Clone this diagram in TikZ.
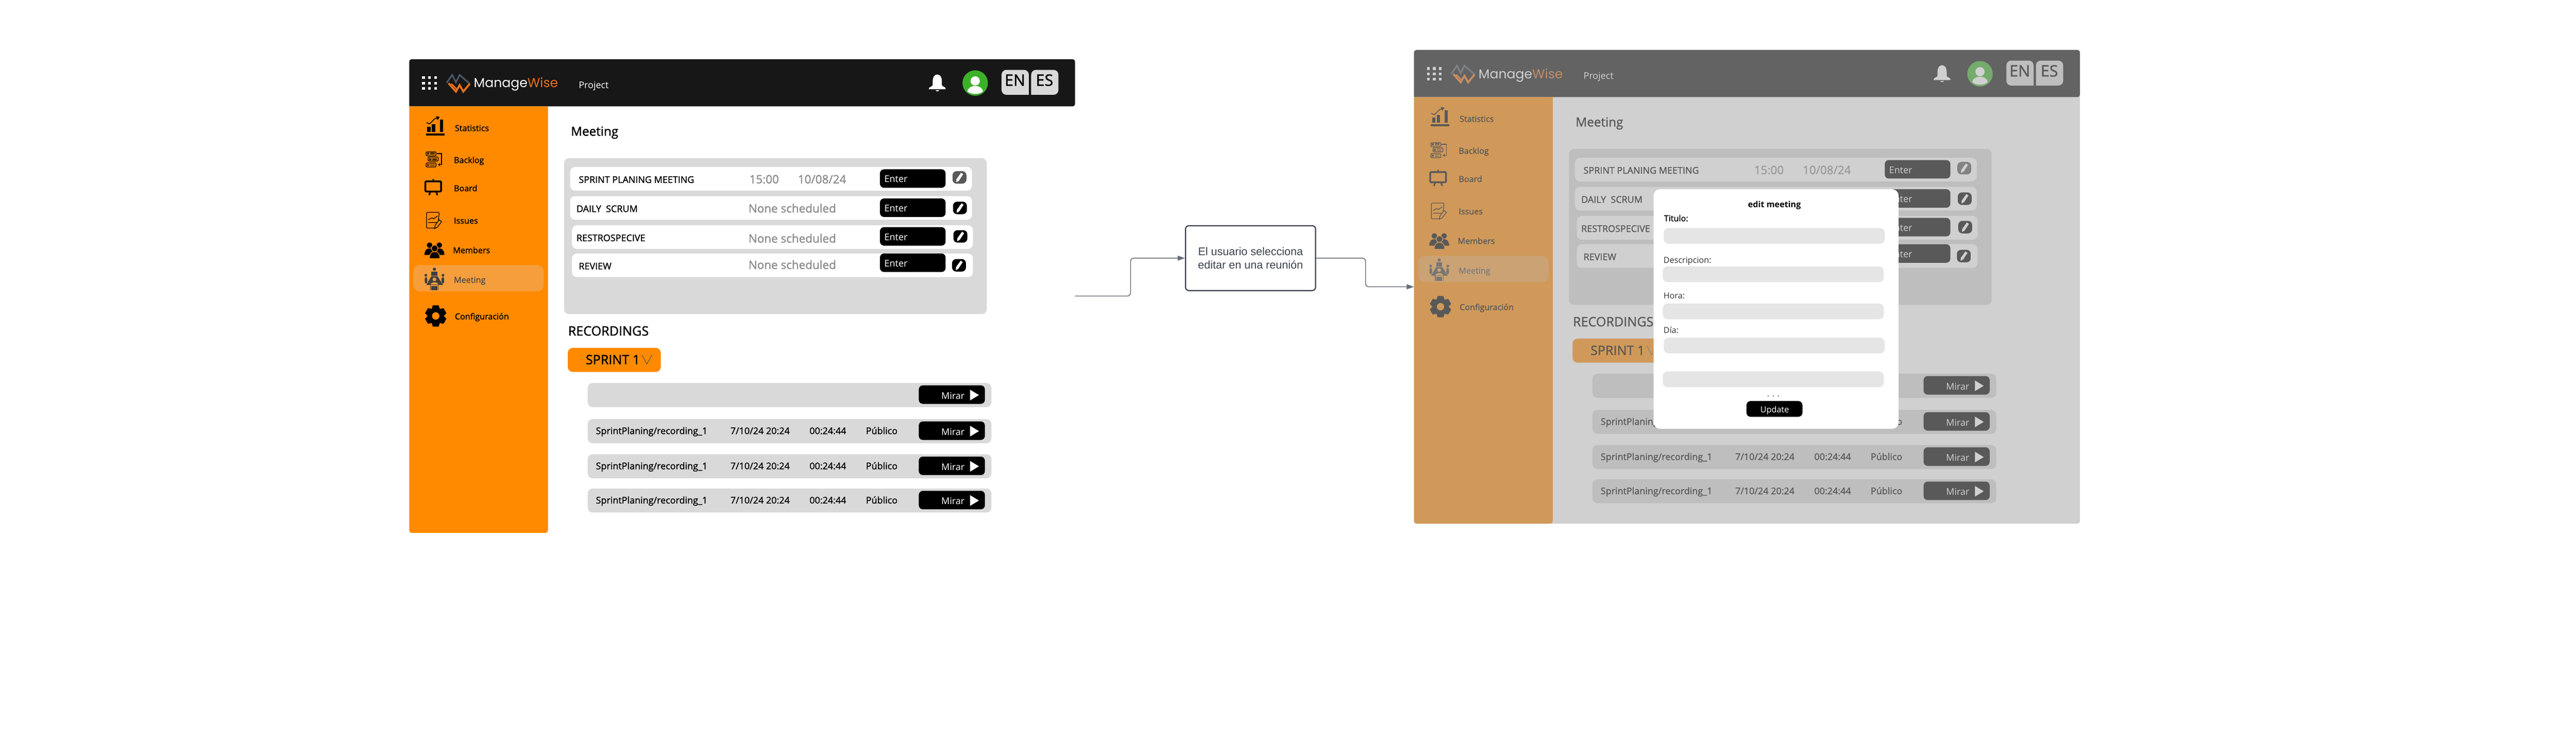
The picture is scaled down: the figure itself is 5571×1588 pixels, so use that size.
\documentclass[tikz,border=0pt]{standalone}
\usepackage{fontspec}
\usepackage{xcolor}
\usepackage{tikz}
\usetikzlibrary{arrows.meta}
\usetikzlibrary{positioning}
\setmainfont{Open Sans}
\newfontfamily\semifont[FakeBold=1.3]{Open Sans}
\newfontfamily\logofont{Poppins}
\newfontfamily\boxfont{Liberation Sans}
\definecolor{barblack}{HTML}{171717}
\definecolor{sideorange}{HTML}{FF8A00}
\definecolor{sidehigh}{HTML}{F59E3B}
\definecolor{panelgray}{HTML}{D9D9D9}
\definecolor{fieldgray}{HTML}{E5E5E5}
\definecolor{dimgray}{HTML}{A7A7A7}
\definecolor{softtext}{HTML}{8C8C8C}
\definecolor{flowink}{HTML}{3A414A}
\definecolor{flowline}{HTML}{666C76}
\definecolor{logoslate}{HTML}{4B5565}
\definecolor{logoorange}{HTML}{E8701A}
\definecolor{usergreen}{HTML}{3CB029}
\newcommand{\sz}[1]{\fontsize{\fpeval{#1*0.2845}}{\fpeval{#1*0.34}}\selectfont}
\tikzset{
	lbl/.style={anchor=mid west, inner sep=0pt},
	lblc/.style={anchor=mid, inner sep=0pt},
	sidetext/.style={lbl, font=\semifont\sz{18}},
	rowtext/.style={lbl, font=\semifont\sz{20}},
	softlbl/.style={lbl, text=softtext, font=\semifont\sz{25}},
	formtext/.style={lbl, text=black!80, font=\sz{18}},
	card/.style={rounded corners=3pt},
	btn/.style={rounded corners=2.5pt, fill=black},
}
% pencil button: centre x, centre y, fill
\newcommand{\pencilbtn}[3]{
	\fill[#3, rounded corners=2.5pt] (#1-15,#2-13.5) rectangle (#1+15,#2+13.5);
	\fill[white] (#1-7,#2+10.5) -- (#1-6.5,#2+4) -- (#1+3.5,#2-10) -- (#1+8,#2-7) -- (#1-1.5,#2+7.5) -- cycle;
}
% one whole screen, #1 is the prefix of its node names
\newcommand{\uiscreen}[1]{
	%bars
	\fill[barblack] (885,230) [rounded corners=1.5pt] -- (885,128) -- (2325,128) -- (2325,230) [sharp corners] -- cycle;
	\fill[sideorange] (885,230) [rounded corners=1.5pt] -- (885,1152) -- (1185,1152) [sharp corners] -- (1185,230) -- cycle;

	%header
	\foreach \dx in {916,929,942}
		\foreach \dy in {168,180,191}
			\fill[white] (\dx-3,\dy-3) rectangle (\dx+3,\dy+3);
	\draw[logoslate, line width=1pt, line join=miter] (966,179) -- (978,162) -- (986,178) -- (994,162) -- (1016,181);
	\draw[logoorange, line width=1.2pt] (970,180) -- (986,198) -- (994,184) -- (1002,198) -- (1016,181);
	\draw[logoorange, line width=.8pt] (976,181) -- (987,192);
	\node[lbl, text=white, font=\logofont\sz{28}] (#1manage) at (1024,180) {Manage};
	\node[lbl, text=logoorange, font=\logofont\sz{28}] (#1wise) at (1140,180) {Wise};
	\node[lbl, text=white, font=\sz{20}] (#1project) at (1251,182) {Project};
	\fill[white] (2027,161) .. controls (2034,161) and (2037,168) .. (2037,176) -- (2037,184) .. controls (2037,187) and (2045,188) .. (2045,191) -- (2045,193) -- (2009,193) -- (2009,191) .. controls (2009,188) and (2017,187) .. (2017,184) -- (2017,176) .. controls (2017,168) and (2020,161) .. (2027,161) -- cycle;
	\fill[white] (2023,194.5) -- (2031,194.5) .. controls (2031,198) and (2023,198) .. (2023,194.5) -- cycle;
	\fill[usergreen] (2109,179.5) circle (27.5);
	\fill[white] (2109,175) circle (10);
	\fill[white] (2092,197) .. controls (2094,190) and (2100,186) .. (2109,186) .. controls (2118,186) and (2124,190) .. (2126,197) .. controls (2120,205) and (2098,205) .. (2092,197) -- cycle;
	\fill[panelgray] (2225,151) -- (2225,205) [rounded corners=3pt] -- (2166,205) -- (2166,151) -- cycle;
	\fill[panelgray] (2230,151) -- (2230,205) [rounded corners=3pt] -- (2289,205) -- (2289,151) -- cycle;
	\node[lblc, font=\semifont\sz{34}] (#1langen) at (2195,176) {EN};
	\node[lblc, font=\semifont\sz{34}] (#1langes) at (2259,176) {ES};

	%sidebar
	\fill[sidehigh, rounded corners=4pt] (894,573) rectangle (1176,630);
	\node[sidetext] (#1statistics) at (983,274) {Statistics};
	\node[sidetext] (#1backlog) at (981,343) {Backlog};
	\node[sidetext] (#1board) at (981,404) {Board};
	\node[sidetext] (#1issues) at (981,474) {Issues};
	\node[sidetext] (#1members) at (979,538) {Members};
	\node[sidetext, text=black!70] (#1meeting) at (981,602) {Meeting};
	\node[sidetext] (#1config) at (983,681) {Configuración};
	% statistics icon
	\fill (921,289) rectangle (961,293);
	\foreach \bx/\by in {924/274,934/268,951/258}
		\fill (\bx,\by) rectangle (\bx+7,285);
	\draw[line width=.5pt, -{Triangle[length=2pt,width=2.5pt]}] (922.5,265) -- (929,268) -- (940,257) -- (951,253);
	% backlog icon
	\foreach \bx/\by in {921.5/328,926/339.5,921.5/352}{
		\draw[line width=.4pt, rounded corners=.5pt] (\bx,\by) rectangle (\bx+21.5,\by+9);
		\draw[line width=.4pt] (\bx+3,\by+3) rectangle (\bx+6,\by+6) (\bx+9,\by+3) -- (\bx+19,\by+3) (\bx+9,\by+6) -- (\bx+19,\by+6);
	}
	\draw[line width=.4pt, -{Stealth[length=1.5pt,width=2pt]}] (945,332) -- (955,332) -- (955,356) -- (947,356);
	% board icon
	\draw[line width=1.1pt, rounded corners=.5pt] (920,392) rectangle (954,414);
	\draw[line width=.9pt] (937,387) -- (937,392) (931,414) -- (928,422) (943,414) -- (946,422);
	% issues icon
	\draw[line width=.4pt, rounded corners=.5pt] (948,477) -- (950,459) -- (922.5,459) -- (922.5,493) -- (940,493);
	\draw[line width=.4pt] (926,475) -- (934,471) -- (938,473) -- (946,467) (926,481) -- (945,481);
	\draw[fill=sideorange, line width=.4pt] (940,494) -- (941,487) -- (950,475) -- (955,479) -- (946,491) -- cycle;
	% members icon
	\foreach \hx in {929,950}{
		\fill (\hx,530) circle (6);
		\fill (\hx-11,551) .. controls (\hx-11,541) and (\hx-6,537) .. (\hx,537) .. controls (\hx+6,537) and (\hx+11,541) .. (\hx+11,551) -- cycle;
	}
	\fill[draw=sideorange, line width=.4pt] (940,537) circle (7);
	\fill[draw=sideorange, line width=.4pt] (929,559) .. controls (928,549) and (933,544) .. (940,544) .. controls (947,544) and (952,549) .. (951,559) -- cycle;
	% meeting icon
	\begin{scope}[black!75]
		\fill (939.5,582) circle (3.5);
		\fill (933,596) -- (933,587) -- (946,587) -- (946,596) -- cycle;
		\fill (921,595) circle (3) (958,595) circle (3);
		\fill[rounded corners=1pt] (918.5,599) rectangle (924,613) (955,599) rectangle (960.5,613);
		\fill (933,597) -- (946,597) -- (958,616) -- (922,616) -- cycle;
		\fill[sidehigh] (939.5,604) circle (4);
		\fill[sidehigh] (931,615) .. controls (932,609) and (947,609) .. (948,615) -- cycle;
		\draw[line width=.4pt] (931,615) -- (931,627) (948,615) -- (948,627);
		\fill (933,618) rectangle (946,627);
	\end{scope}
	% gear icon
	\fill (942.3,683) circle (17);
	\foreach \a in {0,60,...,300}
		\fill[rotate around={\a:(942.3,683)}] (933,670) -- (936,660) -- (948.6,660) -- (951.6,670) -- cycle;
	\fill[sideorange] (942.3,683) circle (8);

	%meeting panel
	\node[lbl, font=\semifont\sz{27}] (#1title) at (1234,284) {Meeting};
	\fill[panelgray, card] (1220,342) rectangle (2134,679);
	\foreach \i/\rl/\rr/\rt/\btnt/\lx/\rowname in {1/1233/2102/361/366/1251/SPRINT PLANING MEETING,2/1233/2102/424/429/1246/DAILY\ \ SCRUM,3/1237/2104/487/491/1246/RESTROSPECIVE,4/1237/2104/548/548/1251/REVIEW}{
		\fill[white, card] (\rl,\rt) rectangle (\rr,\rt+51);
		\fill[btn] (1903,\btnt) rectangle (2045,\btnt+40);
		\node[rowtext] (#1rowlbl\i) at (\lx,\rt+25) {\rowname};
		\node[lbl, text=white, font=\sz{20}] (#1enter\i) at (1912,\btnt+19) {Enter};
	}
	\node[softlbl] (#1hour) at (1620,387) {15:00};
	\node[softlbl] (#1date) at (1725,387) {10/08/24};
	\foreach \i/\ny in {2/450,3/515,4/572}
		\node[softlbl] (#1none\i) at (1618,\ny) {None scheduled};
	\pencilbtn{2075}{383.5}{black!65}
	\pencilbtn{2076}{449.5}{black}
	\pencilbtn{2077}{511}{black}
	\pencilbtn{2074}{573.5}{black}

	%recordings
	\node[lbl, font=\semifont\sz{28}] (#1recordings) at (1228,716) {RECORDINGS};
	\fill[sideorange, card] (1228,752) rectangle (1429,804);
	\node[lbl, font=\semifont\sz{28}] (#1sprint) at (1266,778) {SPRINT 1};
	\draw[black!70, line width=.3pt] (1388,767) -- (1399,787) -- (1410,767);
	\foreach \i/\rt in {1/828,2/906,3/982,4/1056}{
		\fill[panelgray, card] (1271,\rt) rectangle (2144,\rt+52);
		\fill[btn] (1987,\rt+5) rectangle (2130,\rt+45);
		\node[lbl, text=white, font=\sz{20}] (#1mirar\i) at (2035,\rt+25) {Mirar};
		\fill[white] (2098,\rt+14.5) -- (2117,\rt+26) -- (2098,\rt+37.5) -- cycle;
	}
	\foreach \i/\rt in {2/906,3/982,4/1056}{
		\node[rowtext] (#1file\i) at (1288,\rt+23) {SprintPlaning/recording\_1};
		\node[rowtext] (#1when\i) at (1579,\rt+23) {7/10/24 20:24};
		\node[rowtext] (#1long\i) at (1750,\rt+23) {00:24:44};
		\node[rowtext] (#1public\i) at (1872,\rt+23) {Público};
	}
}

\begin{document}
\begin{tikzpicture}[x=0.01cm, y=-0.01cm, >={Triangle[length=4.5pt,width=3pt]}]
	\useasboundingbox (0,0) rectangle (5571,1588);

	%coordinates
	\coordinate (flowstart) at (2325,640);
	\coordinate (flowend)   at (3058,620);

	%first screen
	\uiscreen{a}

	%second screen, dimmed
	\begin{scope}[shift={(2173,-20)}]
		\uiscreen{b}
		\fill[dimgray, fill opacity=.534, rounded corners=1.5pt] (885,128) rectangle (2325,1152);
	\end{scope}

	%edit form
	\fill[white, rounded corners=4pt] (3576,409) rectangle (4106,927);
	\foreach \fx/\fy in {3598/493,3596/576,3596/656,3598/730,3596/803}
		\fill[fieldgray, rounded corners=3pt] (\fx,\fy) rectangle (\fx+478,\fy+34);
	\node[lblc, font=\bfseries\sz{18}] (formtitle) at (3837.5,439) {edit meeting};
	\node[formtext, text=black, font=\semifont\sz{18}] (formname) at (3598,469) {Titulo:};
	\node[formtext] (formdesc) at (3597,559) {Descripcion:};
	\node[formtext] (formhour) at (3597,636) {Hora:};
	\node[formtext] (formday)  at (3597,711) {Día:};
	\node[lblc, text=black!70, font=\sz{18}] (formdots) at (3835,848) {. . .};
	\fill[btn] (3777,867) rectangle (3898,901);
	\node[lblc, text=white, font=\sz{18}] (formupdate) at (3838,883) {Update};

	%flow
	\node[draw=flowink, line width=.7pt, rounded corners=2pt, minimum width=2.81cm, minimum height=1.4cm, align=center, text=flowink, font=\boxfont\sz{24}] (flowstep) at (2704.5,558) {El usuario selecciona\\editar en una reunión};
	\draw[->, flowline, line width=.5pt, rounded corners=2pt] (flowstart) -- ++(120,0) |- (flowstep.west);
	\draw[->, flowline, line width=.5pt, rounded corners=2pt] (flowstep.east) -- ++(107,0) |- (flowend);
\end{tikzpicture}
\end{document}
